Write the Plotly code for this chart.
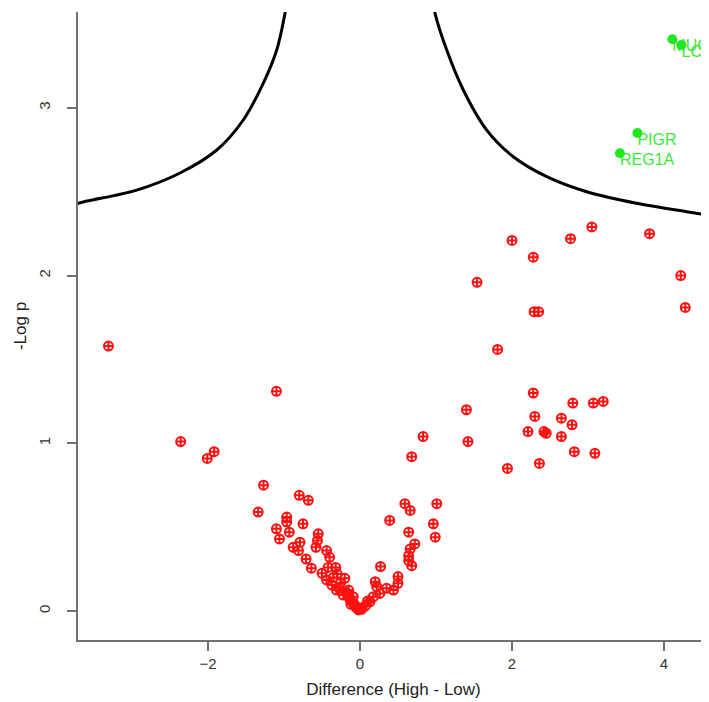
import plotly.graph_objects as go

# Red (non-significant) points: difference, -log p
red_x = [-3.31, -1.10, -2.36, -1.92, -2.01, -1.27, -1.34, -0.80, -0.68, -0.75,
         -0.965, -0.965, -1.10, -0.93, -1.06, -0.55, -0.56, -0.58, -0.79, -0.88,
         -0.81, -0.44, -0.40, -0.71, -0.64, -0.32, -0.20, -0.50, -0.44, -0.37,
         -0.31, -0.22, -0.13, -0.07, -0.26, -0.15, -0.09, -0.02, -0.15, -0.09,
         -0.02, -0.35, -0.28, -0.18, -0.12, -0.05, -0.42, -0.30,
         0.03, 0.07, 0.13, 0.175, 0.26, 0.35, 0.22, 0.20, 0.27, 0.44,
         0.50, 0.50, 0.39, 0.59, 0.66, 1.01, 0.965, 0.99, 0.64, 0.72,
         0.66, 0.64, 0.68, 0.64, 0.68, 0.83, 0.02, 0.10,
         1.54, 2.29, 2.35, 1.81, 4.22, 4.28, 2.28, 1.40, 2.80, 3.07,
         3.20, 2.30, 2.65, 2.79, 2.21, 2.42, 2.45, 2.65, 1.42, 2.82,
         3.09, 1.94, 2.36, 2.00, 2.77, 3.05, 3.81, 2.28]
red_y = [1.58, 1.31, 1.01, 0.95, 0.91, 0.75, 0.59, 0.69, 0.66, 0.52,
         0.56, 0.53, 0.49, 0.47, 0.43, 0.46, 0.42, 0.38, 0.41, 0.38,
         0.36, 0.36, 0.32, 0.31, 0.255, 0.26, 0.195, 0.225, 0.185, 0.155,
         0.125, 0.095, 0.066, 0.036, 0.165, 0.125, 0.085, 0.016, 0.095, 0.046,
         0.006, 0.20, 0.14, 0.11, 0.04, 0.02, 0.26, 0.22,
         0.02, 0.03, 0.055, 0.085, 0.105, 0.135, 0.145, 0.175, 0.265, 0.125,
         0.205, 0.165, 0.54, 0.64, 0.60, 0.64, 0.52, 0.44, 0.47, 0.40,
         0.37, 0.33, 0.27, 0.30, 0.92, 1.04, 0.01, 0.06,
         1.96, 1.785, 1.785, 1.56, 2.00, 1.81, 1.30, 1.20, 1.24, 1.24,
         1.25, 1.16, 1.15, 1.11, 1.07, 1.07, 1.06, 1.04, 1.01, 0.95,
         0.94, 0.85, 0.88, 2.21, 2.22, 2.29, 2.25, 2.11]

# Significant (green) points
green_x = [4.11, 4.23, 3.65, 3.42]
green_y = [3.41, 3.375, 2.85, 2.73]
green_labels = ["MUC2", "LCN2", "PIGR", "REG1A"]

# Threshold curves
left_x = [-3.75, -3.707, -2.938, -2.368, -1.885, -1.536, -1.272, -1.096, -0.987, -0.95]
left_y = [2.42, 2.431, 2.510, 2.612, 2.749, 2.928, 3.148, 3.345, 3.564, 3.66]
right_x = [0.95, 0.987, 1.141, 1.359, 1.667, 2.017, 2.457, 2.983, 3.641, 4.299, 4.65]
right_y = [3.66, 3.564, 3.345, 3.107, 2.868, 2.709, 2.590, 2.500, 2.431, 2.381, 2.357]

x_ticks = [-2, 0, 2, 4]
y_ticks = [0, 1, 2, 3]

fig = go.Figure()

for cx, cy in [(left_x, left_y), (right_x, right_y)]:
    fig.add_trace(go.Scatter(x=cx, y=cy, mode="lines",
                             line=dict(color="black", width=3, shape="spline", smoothing=1),
                             hoverinfo="skip", showlegend=False))

fig.add_trace(go.Scatter(x=red_x, y=red_y, mode="markers",
                         marker=dict(symbol="circle-cross-open", size=9, color="#ff1010",
                                     line=dict(width=2, color="#ff1010")),
                         showlegend=False))

# labels first, then markers so dots sit over text
fig.add_trace(go.Scatter(x=green_x, y=green_y, mode="text", text=green_labels,
                         textposition="bottom right",
                         textfont=dict(family="Liberation Sans, Arial", size=16, color="#3be83b"),
                         showlegend=False))
fig.add_trace(go.Scatter(x=green_x, y=green_y, mode="markers",
                         marker=dict(symbol="circle", size=10, color="#22e622"),
                         showlegend=False))

axis_common = dict(showline=True, linecolor="#707070", linewidth=2, mirror=False,
                   ticks="outside", ticklen=9, tickwidth=2, tickcolor="#707070",
                   showgrid=False, zeroline=False, automargin=False,
                   tickfont=dict(family="Liberation Sans, Arial", size=15, color="#333333"))

# page body has an 8px margin, so the figure is sized to fill the remaining window
fig.update_layout(
    width=701, height=694,
    margin=dict(l=70, r=0, t=4, b=62),
    paper_bgcolor="white", plot_bgcolor="white",
    xaxis=dict(range=[-3.711, 4.592], tickvals=x_ticks,
               title=dict(text="Difference (High - Low)", standoff=12,
                          font=dict(family="Liberation Sans, Arial", size=17, color="#222222")),
               **axis_common),
    yaxis=dict(range=[-0.173, 3.572], tickvals=y_ticks, tickangle=-90,
               ticklabelstandoff=11,
               title=dict(text="-Log p", standoff=5,
                          font=dict(family="Liberation Sans, Arial", size=17, color="#222222")),
               **axis_common),
)

fig.write_html("out.html")
